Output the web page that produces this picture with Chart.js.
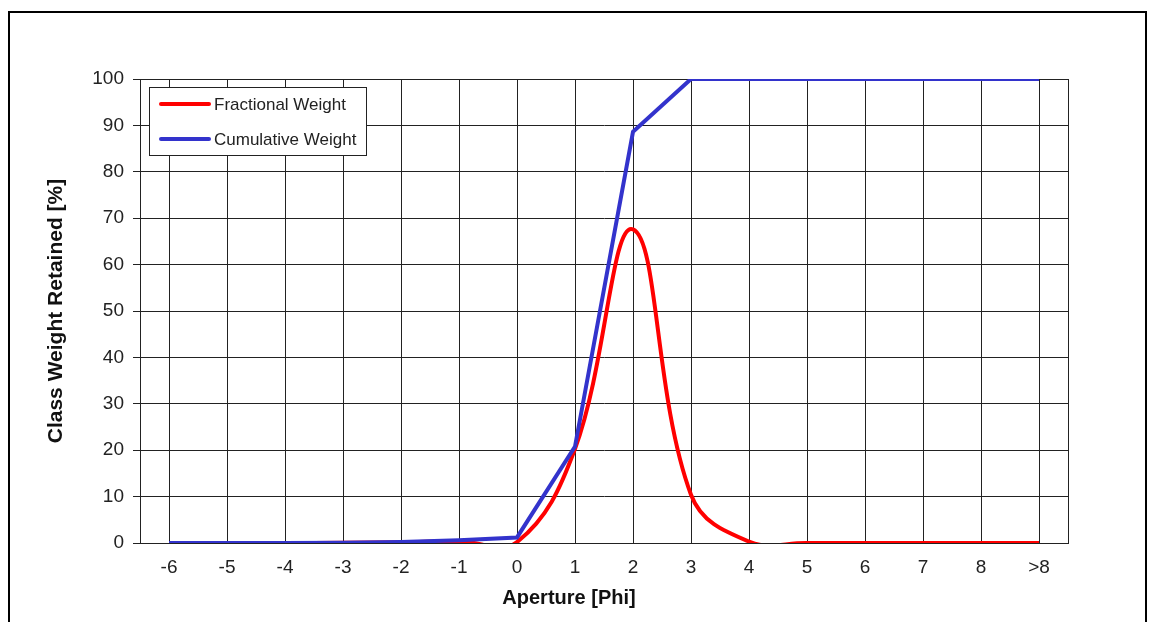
<!DOCTYPE html>
<html>
<head>
<meta charset="utf-8">
<script src="https://cdn.jsdelivr.net/npm/chart.js@4.4.0/dist/chart.umd.min.js"></script>
<style>
  html, body { margin: 0; padding: 0; background: #fff; }
  #wrap { width: 1149px; height: 622px; }
</style>
</head>
<body>
<div id="wrap"><canvas id="sieveChart" width="1149" height="622"></canvas></div>
<script>
const categories = ['-6', '-5', '-4', '-3', '-2', '-1', '0', '1', '2', '3', '4', '5', '6', '7', '8', '>8'];
const fractionalWeight = [0, 0, 0, 0.05, 0.15, 0.4, 0.2, 20.3, 67.6, 10.4, 0.3, 0, 0, 0, 0, 0];
const cumulativeWeight = [0, 0, 0, 0.05, 0.2, 0.6, 1.2, 20.8, 88.6, 100, 100, 100, 100, 100, 100, 100];
const yTicks = [0, 10, 20, 30, 40, 50, 60, 70, 80, 90, 100];
const xTitle = 'Aperture [Phi]';
const yTitle = 'Class Weight Retained [%]';

const FONT = "'Liberation Sans', Arial, sans-serif";
const RED = '#ff0000';
const BLUE = '#3333cc';

// white page + outer frame + plot frame
const framePlugin = {
    id: 'frame',
    beforeDraw(chart) {
        const ctx = chart.ctx;
        ctx.save();
        ctx.fillStyle = '#fff';
        ctx.fillRect(0, 0, chart.width, chart.height);
        ctx.strokeStyle = '#000';
        ctx.lineWidth = 2;
        ctx.beginPath();
        ctx.moveTo(9, 640);
        ctx.lineTo(9, 12);
        ctx.lineTo(1146, 12);
        ctx.lineTo(1146, 640);
        ctx.stroke();
        ctx.restore();
    },
    beforeDatasetsDraw(chart) {
        const a = chart.chartArea;
        const ctx = chart.ctx;
        ctx.save();
        ctx.strokeStyle = '#222';
        ctx.lineWidth = 1;
        ctx.strokeRect(Math.round(a.left) + 0.5, Math.round(a.top) + 0.5,
            Math.round(a.right - a.left), Math.round(a.bottom - a.top));
        ctx.restore();
    },
    // x title sits a bit left of the plot centre in the original
    afterDraw(chart) {
        const ctx = chart.ctx;
        ctx.save();
        ctx.fillStyle = '#111';
        ctx.font = 'bold 20px ' + FONT;
        ctx.textAlign = 'center';
        ctx.textBaseline = 'middle';
        ctx.fillText(xTitle, 569, 598);
        ctx.restore();
    }
};

// legend box sitting inside the plot, top-left
const boxLegend = {
    id: 'boxLegend',
    afterDraw(chart) {
        const ctx = chart.ctx;
        const x = 149, y = 87, w = 217, h = 68;
        ctx.save();
        ctx.fillStyle = '#fff';
        ctx.fillRect(x, y, w, h);
        ctx.strokeStyle = '#222';
        ctx.lineWidth = 1;
        ctx.strokeRect(x + 0.5, y + 0.5, w, h);
        const items = chart.data.datasets.slice().sort((p, q) => p.legendPos - q.legendPos);
        items.forEach((ds, i) => {
            const ly = 104 + i * 35;
            ctx.strokeStyle = ds.borderColor;
            ctx.lineWidth = 4;
            ctx.lineCap = 'round';
            ctx.beginPath();
            ctx.moveTo(161, ly);
            ctx.lineTo(209, ly);
            ctx.stroke();
            ctx.fillStyle = '#222';
            ctx.font = '17px ' + FONT;
            ctx.textBaseline = 'middle';
            ctx.fillText(ds.label, 214, ly + 1);
        });
        ctx.restore();
    }
};

new Chart(document.getElementById('sieveChart'), {
    type: 'line',
    data: {
        labels: categories,
        datasets: [
            {
                label: 'Fractional Weight',
                data: fractionalWeight,
                borderColor: RED,
                borderWidth: 4,
                tension: 0.4,
                capBezierPoints: false,
                pointRadius: 0,
                order: 1,
                legendPos: 0
            },
            {
                label: 'Cumulative Weight',
                data: cumulativeWeight,
                borderColor: BLUE,
                borderWidth: 4,
                tension: 0,
                pointRadius: 0,
                order: 0,
                legendPos: 1
            }
        ]
    },
    options: {
        responsive: false,
        animation: false,
        layout: { padding: { left: 0, top: 79, right: 81, bottom: 0 } },
        plugins: {
            legend: { display: false },
            tooltip: { enabled: false }
        },
        scales: {
            x: {
                offset: true,
                grid: { offset: false, color: '#222', lineWidth: 1, drawTicks: false },
                border: { color: '#222' },
                ticks: { color: '#222', font: { family: FONT, size: 19 }, padding: 13, maxRotation: 0, autoSkip: false },
                title: { display: false },
                afterFit(scale) { scale.height = 79; }
            },
            y: {
                min: 0,
                max: 100,
                afterBuildTicks(scale) { scale.ticks = yTicks.map(v => ({ value: v })); },
                grid: { color: '#222', lineWidth: 1, drawTicks: true, tickLength: 7 },
                border: { color: '#222' },
                ticks: { color: '#222', font: { family: FONT, size: 19 }, padding: 9 },
                title: { display: true, text: yTitle, color: '#111', font: { family: FONT, size: 21, weight: 'bold' }, padding: { top: 44, bottom: 0 } },
                afterFit(scale) { scale.width = 140; }
            }
        }
    },
    plugins: [framePlugin, boxLegend]
});
</script>
</body>
</html>
